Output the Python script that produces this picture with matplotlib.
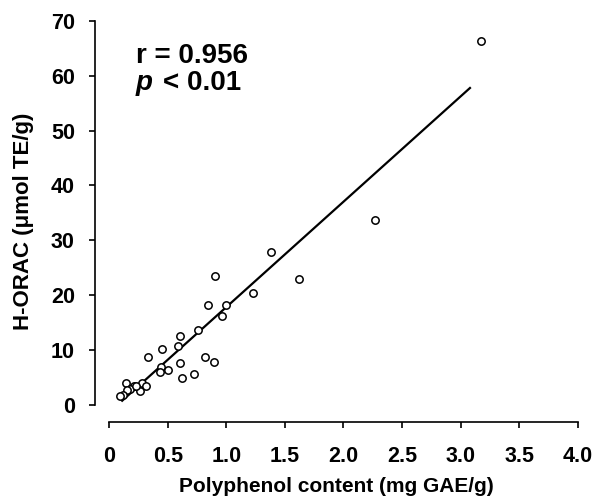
import numpy as np
import matplotlib
matplotlib.use("Agg")
import matplotlib.pyplot as plt

plt.rcParams['font.family'] = ['Liberation Sans', 'DejaVu Sans']

# Polyphenol content (mg GAE/g) vs H-ORAC (umol TE/g)
polyphenol = [3.17, 2.27, 1.38, 1.62, 0.90, 1.23, 0.84, 1.00, 0.96, 0.76,
              0.60, 0.59, 0.45, 0.33, 0.82, 0.89, 0.60, 0.44, 0.43, 0.50,
              0.72, 0.62, 0.14, 0.28, 0.31, 0.21, 0.18, 0.26, 0.15, 0.12,
              0.09, 0.23]
horac = [66.3, 33.7, 27.9, 23.0, 23.5, 20.4, 18.3, 18.3, 16.3, 13.7,
         12.5, 10.8, 10.2, 8.7, 8.7, 7.8, 7.7, 6.9, 6.0, 6.4,
         5.7, 5.0, 4.1, 4.1, 3.4, 3.4, 3.0, 2.6, 2.7, 1.9,
         1.7, 3.4]

# regression line as drawn
fit_slope = 19.18
fit_intercept = -1.33
fit_x = [0.11, 3.08]

xticks = [0, 0.5, 1.0, 1.5, 2.0, 2.5, 3.0, 3.5, 4.0]
xticklabels = ['0', '0.5', '1.0', '1.5', '2.0', '2.5', '3.0', '3.5', '4.0']
yticks = [0, 10, 20, 30, 40, 50, 60, 70]

fig = plt.figure(figsize=(6.08, 4.99), dpi=100)
ax = fig.add_axes([95 / 608, 77.3 / 499, 482.7 / 608, 401 / 499])

fx = np.array(fit_x)
ax.plot(fx, fit_slope * fx + fit_intercept, color='black', lw=1.6)
ax.plot(polyphenol, horac, 'o', mfc='white', mec='black', ms=5.3, mew=1.1,
        clip_on=False)

ax.set_xlim(-0.122, 4.0)
ax.set_ylim(-3.04, 70)
ax.set_xticks(xticks)
ax.set_xticklabels(xticklabels)
ax.set_yticks(yticks)

for s in ['top', 'right']:
    ax.spines[s].set_visible(False)
ax.spines['left'].set_bounds(0, 70)
ax.spines['bottom'].set_bounds(0, 4.0)
for s in ['left', 'bottom']:
    ax.spines[s].set_linewidth(1.2)

ax.tick_params(axis='both', direction='out', length=4.5, width=1.2,
               labelsize=15.5)
ax.tick_params(axis='y', pad=10)
ax.tick_params(axis='x', pad=13)
for lab in ax.get_xticklabels() + ax.get_yticklabels():
    lab.set_fontweight('bold')

ax.set_xlabel('Polyphenol content (mg GAE/g)', fontsize=15,
              fontweight='bold', labelpad=7)
ax.set_ylabel('H-ORAC (\u03bcmol TE/g)', fontsize=16, fontweight='bold',
              labelpad=12)

# correlation annotation
ax.text(0.224, 62.3, 'r = 0.956', fontsize=20, fontweight='bold',
        va='baseline', ha='left')
ax.text(0.224, 57.3, 'p', fontsize=20, fontweight='bold', style='italic',
        va='baseline', ha='left')
ax.text(0.461, 57.3, '< 0.01', fontsize=20, fontweight='bold',
        va='baseline', ha='left')

fig.savefig('out.png', dpi=100)
